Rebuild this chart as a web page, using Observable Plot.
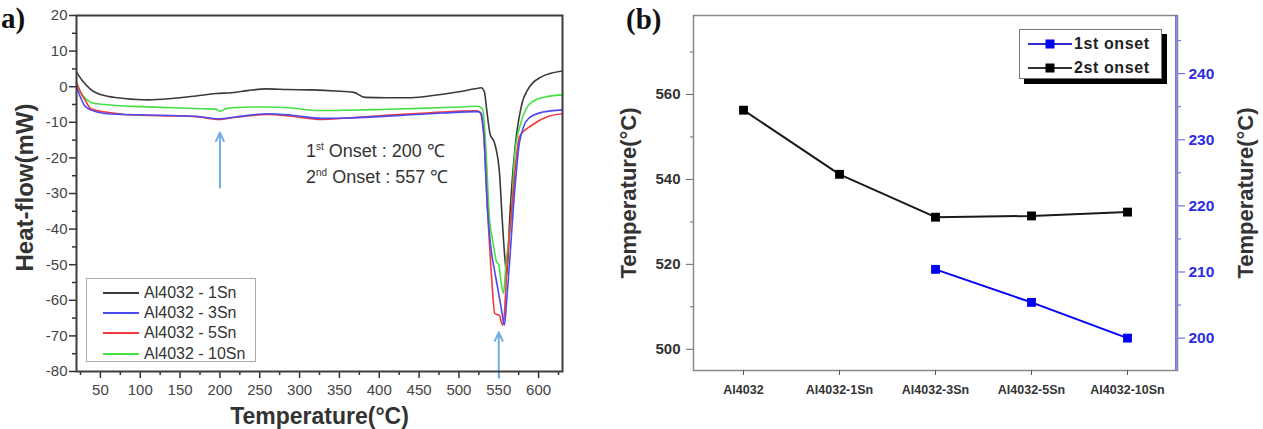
<!DOCTYPE html>
<html>
<head>
<meta charset="utf-8">
<script src="https://cdn.jsdelivr.net/npm/d3@7"></script>
<script src="https://cdn.jsdelivr.net/npm/@observablehq/plot@0.6"></script>
<style>
  body { margin: 0; background: #fff; }
  #fig { position: relative; width: 1263px; height: 429px; overflow: hidden;
         font-family: "Liberation Sans", Arial, sans-serif; }
  #fig > svg { position: absolute; top: 0; }
  .abs { position: absolute; }
  .legA { left: 86px; top: 278px; width: 170px; height: 84px; box-sizing: border-box;
          border: 1px solid #aaa; background: #fff; }
  .legA .row { position: absolute; left: 0; height: 20px; width: 170px; }
  .legA svg { position: absolute; left: 15px; top: 0; }
  .legA span { position: absolute; left: 57px; top: 0; line-height: 20px; font-size: 16px; color: #333; white-space: nowrap; }
  .legB { left: 1019px; top: 29px; width: 143px; height: 50px; box-sizing: border-box;
          border: 1px solid #777; background: #fff; box-shadow: 5px 5px 0 #000; }
  .legB .row { position: absolute; left: 0; height: 22px; width: 143px; }
  .legB svg { position: absolute; left: 7px; top: 0; }
  .legB span { position: absolute; left: 54px; top: 0; line-height: 22px; font-size: 16px; font-weight: bold;
               letter-spacing: 0.6px; color: #222; white-space: nowrap; }
  .note { left: 306px; top: 136px; font-size: 18px; line-height: 22px; color: #333; white-space: nowrap; }
  .note sup { font-size: 10px; vertical-align: 7px; }
  .tag { font-family: "Liberation Serif", "Times New Roman", serif; font-weight: bold; font-size: 29px; color: #111; }
</style>
</head>
<body>
<div id="fig"></div>
<script>
// ---- (a) DSC heat-flow curves ----
const seriesNames = ["Al4032 - 1Sn", "Al4032 - 3Sn", "Al4032 - 5Sn", "Al4032 - 10Sn"];
const seriesColors = ["#3a3a3a", "#4a4af0", "#f23a3a", "#45e045"];

const sn1Temp = [20, 28, 38, 55, 80, 110, 140, 170, 195, 215, 235, 258, 285, 315, 345, 368, 382, 410, 440, 470, 500, 520, 528, 532, 535, 539, 545, 551, 554, 558, 560, 564, 570, 578, 587, 603, 630];
const sn1Flow = [4.1, 1.5, -0.8, -2.5, -3.3, -3.7, -3.3, -2.6, -1.9, -1.7, -1.1, -0.6, -0.8, -0.9, -1.2, -1.6, -3.0, -3.1, -3.1, -2.4, -1.4, -0.6, -0.3, -1.5, -6.7, -13.2, -16, -24.5, -36, -49, -53, -36, -18, -5.8, -0.6, 2.7, 4.4];

const sn3Temp = [20, 25, 30, 38, 47, 60, 80, 97, 120, 139, 170, 198, 220, 260, 290, 327, 360, 400, 440, 480, 524, 528, 531, 536, 540, 545, 549, 553, 557, 560, 564, 568, 572, 576, 587, 604, 630];
const sn3Flow = [0, -3.0, -5.3, -6.5, -7.2, -7.6, -7.8, -7.9, -8.0, -8.1, -8.3, -9.0, -8.5, -7.6, -8.0, -8.9, -8.8, -8.4, -7.9, -7.4, -7.0, -7.5, -13, -35, -45, -52, -57, -62, -67, -60, -48, -35, -24, -15.6, -9, -7.2, -6.5];

const sn5Temp = [20, 25, 30, 38, 50, 63, 80, 100, 139, 170, 198, 220, 260, 290, 327, 360, 400, 440, 480, 522, 526, 531, 536, 541, 545, 548, 551, 553, 555, 557, 560, 564, 568, 572, 576, 591, 610, 630];
const sn5Flow = [1.3, -1.5, -3.5, -6.2, -6.9, -7.3, -7.8, -8.0, -8.2, -8.4, -9.2, -8.6, -7.8, -8.3, -9.2, -8.8, -8.2, -7.6, -7.1, -6.8, -7.1, -13, -35, -53.5, -63.7, -64, -64.3, -66, -67, -64, -52, -40, -30, -20, -14, -10.9, -8.5, -7.6];

const sn10Temp = [20, 25, 32, 40, 55, 70, 100, 140, 180, 195, 200, 206, 215, 255, 290, 323, 360, 400, 450, 500, 524, 530, 534, 538, 543, 547, 550, 553, 556, 559, 563, 566, 570, 578, 591, 610, 630];
const sn10Flow = [1.0, -1.5, -3.5, -4.6, -5.0, -5.3, -5.6, -5.9, -6.2, -6.3, -6.9, -6.3, -5.9, -5.7, -6.0, -6.7, -6.6, -6.4, -6.1, -5.7, -5.5, -6.5, -18, -36, -44, -49, -50, -55, -58, -50, -42, -36, -19, -10, -4.4, -2.8, -2.3];

const tempTicks = [50, 100, 150, 200, 250, 300, 350, 400, 450, 500, 550, 600];
const tempMinor = [25, 75, 125, 175, 225, 275, 325, 375, 425, 475, 525, 575, 625];
const flowTicks = [20, 10, 0, -10, -20, -30, -40, -50, -60, -70, -80];
const flowMinor = [15, 5, -5, -15, -25, -35, -45, -55, -65, -75];

// onset markers: temperature, arrow tail and arrow head (heat flow)
const arrowTemp = [200, 550];
const arrowTail = [-28.3, -81.7];
const arrowHead = [-12.9, -69];

// ---- (b) onset temperatures ----
const alloys = ["Al4032", "Al4032-1Sn", "Al4032-3Sn", "Al4032-5Sn", "Al4032-10Sn"];
const onset1st = [null, null, 210.4, 205.4, 200];
const onset2nd = [556.3, 541.2, 531.1, 531.4, 532.3];
const leftTicks = [500, 520, 540, 560];
const leftMinor = [510, 530, 550, 570];
const rightTicks = [200, 210, 220, 230, 240];
const rightMinor = [205, 215, 225, 235, 245];
const leftDomain = [495, 578.6];
const rightDomain = [195.1, 248.8];

const font = "'Liberation Sans', Arial, sans-serif";
const fig = document.getElementById("fig");

// ---------- panel (a) ----------
const curveData = [
  [sn1Temp, sn1Flow, 0],
  [sn10Temp, sn10Flow, 3],
  [sn5Temp, sn5Flow, 2],
  [sn3Temp, sn3Flow, 1]
];
const arrows = arrowTemp.map((t, i) => ({t, y1: arrowTail[i], y2: arrowHead[i]}));

const panelA = Plot.plot({
  width: 595, height: 429,
  marginLeft: 76, marginRight: 33, marginTop: 15, marginBottom: 58,
  x: {domain: [20, 630]},
  y: {domain: [-80, 20]},
  style: {fontFamily: font, background: "transparent", overflow: "visible"},
  marks: [
    Plot.axisX(tempMinor, {tickSize: 4, tickFormat: () => "", stroke: "#333", strokeWidth: 1.5, label: null}),
    Plot.axisX(tempTicks, {tickSize: 7, tickPadding: 6, fontSize: 15, fill: "#444", stroke: "#333", strokeWidth: 1.5,
      tickFormat: d => String(d), label: null}),
    Plot.axisY(flowMinor, {tickSize: 4, tickFormat: () => "", stroke: "#333", strokeWidth: 1.5, label: null}),
    Plot.axisY(flowTicks, {tickSize: 7, tickPadding: 2, fontSize: 15, fill: "#444", stroke: "#333", strokeWidth: 1.5,
      tickFormat: d => String(d), label: null}),
    ...curveData.map(([ts, fs, k]) =>
      Plot.line(ts.map((t, i) => ({t, hf: fs[i]})), {
        x: "t", y: "hf", stroke: seriesColors[k], strokeWidth: 1.6, curve: "monotone-x"
      })),
    Plot.arrow(arrows, {x1: "t", x2: "t", y1: "y1", y2: "y2", stroke: "#74aedf", strokeWidth: 2, headLength: 7, headAngle: 50}),
    Plot.frame({stroke: "#3c3c3c", strokeWidth: 2}),
    Plot.text(["Heat-flow(mW)"], {text: d => d, frameAnchor: "left", rotate: -90, dx: -51, dy: -6,
      textAnchor: "middle", lineAnchor: "middle", fontSize: 24, fontWeight: "bold", fill: "#333"}),
    Plot.text(["Temperature(\u00B0C)"], {text: d => d, frameAnchor: "bottom", dy: 45,
      textAnchor: "middle", lineAnchor: "middle", fontSize: 23, fontWeight: "bold", fill: "#333"})
  ]
});
panelA.style.left = "0px";
fig.appendChild(panelA);

// ---------- panel (b) ----------
const toLeft = d3.scaleLinear().domain(rightDomain).range(leftDomain);
const rows2 = alloys.map((a, i) => ({alloy: a, v: onset2nd[i]}));
const rows1 = alloys.map((a, i) => ({alloy: a, v: onset1st[i]}))
  .filter(d => d.v != null)
  .map(d => ({alloy: d.alloy, v: toLeft(d.v)}));

const bW = 663, bL = 93, bR = 86;
const step = (bW - bL - bR) / alloys.length;
const blue = "#0000f5";
const blueAxis = "#5a5af5";

const panelB = Plot.plot({
  width: bW, height: 429,
  marginLeft: bL, marginRight: bR, marginTop: 15, marginBottom: 59,
  x: {type: "point", domain: alloys, padding: 0.5},
  y: {domain: leftDomain},
  style: {fontFamily: font, background: "transparent", overflow: "visible"},
  marks: [
    Plot.frame({stroke: "#8a8a8a", strokeWidth: 1.5}),
    Plot.ruleX([alloys[alloys.length - 1]], {x: d => d, dx: step / 2, stroke: blueAxis, strokeWidth: 1.5}),
    Plot.axisX({tickSize: 5, tickPadding: 10, fontSize: 12.5, fontWeight: "bold", fill: "#333", stroke: "#555", label: null}),
    Plot.axisY(leftMinor, {tickSize: 3, tickFormat: () => "", stroke: "#666", label: null}),
    Plot.axisY(leftTicks, {tickSize: 7, tickPadding: 6, fontSize: 15, fontWeight: "bold", fill: "#333", stroke: "#666",
      tickFormat: d => String(d), label: null}),
    Plot.axisY(rightMinor.map(toLeft), {anchor: "right", tickSize: 3, tickFormat: () => "", stroke: blueAxis, label: null}),
    Plot.axisY(rightTicks.map(toLeft), {anchor: "right", tickSize: 7, tickPadding: 4,
      tickFormat: d => String(Math.round(toLeft.invert(d))),
      fontSize: 15.5, fontWeight: "bold", fill: "#2c2ce6", stroke: blueAxis, label: null}),
    Plot.line(rows2, {x: "alloy", y: "v", stroke: "#1a1a1a", strokeWidth: 2}),
    Plot.dot(rows2, {x: "alloy", y: "v", symbol: "square", r: 5, fill: "#000"}),
    Plot.line(rows1, {x: "alloy", y: "v", stroke: blue, strokeWidth: 2}),
    Plot.dot(rows1, {x: "alloy", y: "v", symbol: "square", r: 5, fill: blue}),
    Plot.text(["Temperature(\u00B0C)"], {text: d => d, frameAnchor: "left", rotate: -90, dx: -65,
      textAnchor: "middle", lineAnchor: "middle", fontSize: 22, fontWeight: "bold", fill: "#333"}),
    Plot.text(["Temperature(\u00B0C)"], {text: d => d, frameAnchor: "right", rotate: -90, dx: 68,
      textAnchor: "middle", lineAnchor: "middle", fontSize: 22, fontWeight: "bold", fill: "#333"})
  ]
});
panelB.style.left = "600px";
fig.appendChild(panelB);

// ---------- overlays: panel tags, legends, onset note ----------
function addDiv(cls, html, style) {
  const d = document.createElement("div");
  d.className = "abs " + cls;
  d.innerHTML = html;
  Object.assign(d.style, style || {});
  fig.appendChild(d);
  return d;
}
addDiv("tag", "a)", {left: "1px", top: "2px"});
addDiv("tag", "(b)", {left: "626px", top: "3px"});

addDiv("note", "1<sup>st</sup> Onset : 200 \u2103<br>2<sup>nd</sup> Onset : 557 \u2103");

const legA = addDiv("legA", "");
[0, 1, 2, 3].forEach(k => {
  const row = document.createElement("div");
  row.className = "row";
  row.style.top = (3.7 + k * 20.3) + "px";
  row.innerHTML = `<svg width="38" height="20"><line x1="1" x2="37" y1="10" y2="10" stroke="${seriesColors[k]}" stroke-width="2"/></svg><span>${seriesNames[k]}</span>`;
  legA.appendChild(row);
});

const legB = addDiv("legB", "");
[["1st onset", blue, "#2f2fd0"], ["2st onset", "#000", "#333"]].forEach(([name, fillC, lineC], k) => {
  const row = document.createElement("div");
  row.className = "row";
  row.style.top = (3 + k * 24) + "px";
  row.innerHTML = `<svg width="46" height="22"><line x1="1" x2="45" y1="11" y2="11" stroke="${lineC}" stroke-width="2"/><rect x="18.5" y="6.5" width="9" height="9" fill="${fillC}"/></svg><span>${name}</span>`;
  legB.appendChild(row);
});
</script>
</body>
</html>
